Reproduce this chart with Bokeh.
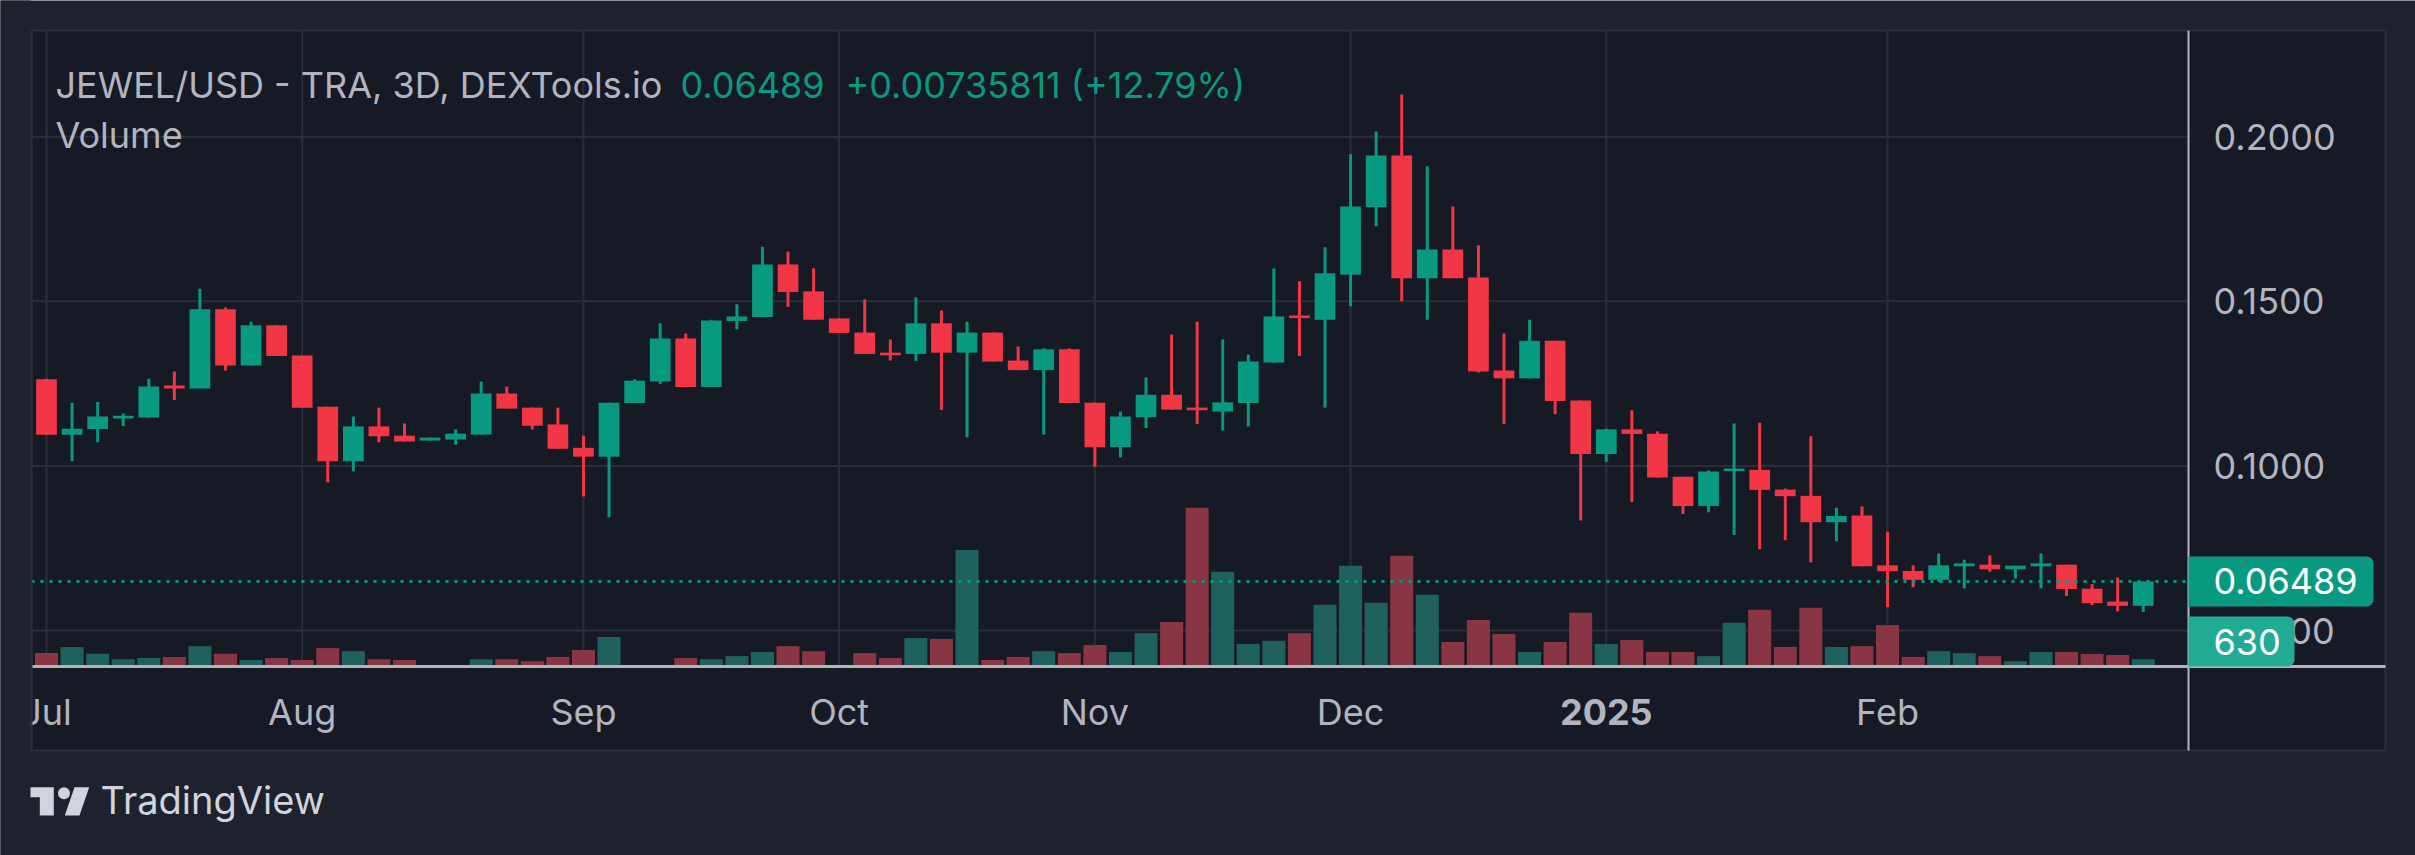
from bokeh.plotting import figure
from bokeh.models import Range1d, BoxAnnotation, Label, PolyAnnotation, ColumnDataSource
from bokeh.core.properties import value
from bokeh.embed import file_html
from bokeh.resources import INLINE

# ---------------- data (3D candles, Jul 2024 -> Feb 2025) ----------------
opens = [
    0.1263, 0.1095, 0.1112, 0.1144, 0.1147, 0.1244, 0.1235, 0.1476, 0.1305, 0.1427,
    0.1335, 0.1180, 0.1014, 0.1120, 0.1092, 0.1077, 0.1080, 0.1095, 0.1220, 0.1177,
    0.1126, 0.1055, 0.1028, 0.1191, 0.1256, 0.1387, 0.1240, 0.1440, 0.1452, 0.1612,
    0.1530, 0.1448, 0.1405, 0.1344, 0.1340, 0.1433, 0.1344, 0.1405, 0.1320, 0.1291,
    0.1354, 0.1192, 0.1057, 0.1148, 0.1216, 0.1177, 0.1165, 0.1191, 0.1314, 0.1457,
    0.1444, 0.1581, 0.1786, 0.1943, 0.1570, 0.1657, 0.1572, 0.1290, 0.1266, 0.1380,
    0.1199, 0.1036, 0.1111, 0.1098, 0.0967, 0.0878, 0.0984, 0.0988, 0.0928, 0.0909,
    0.0829, 0.0849, 0.0698, 0.0681, 0.0654, 0.0695, 0.0700, 0.0686, 0.0695, 0.0700,
    0.0627, 0.0588, 0.0575]
highs = [
    0.1265, 0.1192, 0.1194, 0.1159, 0.1265, 0.1287, 0.1538, 0.1481, 0.1438, 0.1427,
    0.1335, 0.1180, 0.1150, 0.1177, 0.1129, 0.1086, 0.1111, 0.1256, 0.1241, 0.1177,
    0.1177, 0.1092, 0.1192, 0.1263, 0.1433, 0.1402, 0.1444, 0.1491, 0.1666, 0.1651,
    0.1600, 0.1448, 0.1506, 0.1384, 0.1512, 0.1472, 0.1438, 0.1405, 0.1363, 0.1357,
    0.1357, 0.1192, 0.1165, 0.1269, 0.1399, 0.1438, 0.1384, 0.1338, 0.1600, 0.1561,
    0.1664, 0.1947, 0.2016, 0.2128, 0.1910, 0.1788, 0.1670, 0.1402, 0.1444, 0.1380,
    0.1199, 0.1113, 0.1169, 0.1105, 0.0967, 0.0986, 0.1129, 0.1131, 0.0931, 0.1090,
    0.0873, 0.0877, 0.0800, 0.0698, 0.0734, 0.0715, 0.0728, 0.0697, 0.0734, 0.0700,
    0.0641, 0.0661, 0.06489]
lows = [
    0.1095, 0.1014, 0.1072, 0.1121, 0.1147, 0.1200, 0.1235, 0.1290, 0.1305, 0.1334,
    0.1177, 0.0950, 0.0983, 0.1072, 0.1074, 0.1077, 0.1065, 0.1095, 0.1174, 0.1111,
    0.1052, 0.0907, 0.0844, 0.1191, 0.1249, 0.1240, 0.1240, 0.1415, 0.1452, 0.1483,
    0.1444, 0.1404, 0.1340, 0.1320, 0.1319, 0.1170, 0.1087, 0.1317, 0.1291, 0.1095,
    0.1191, 0.0997, 0.1026, 0.1115, 0.1171, 0.1127, 0.1108, 0.1120, 0.1314, 0.1334,
    0.1177, 0.1485, 0.1728, 0.1500, 0.1444, 0.1570, 0.1284, 0.1127, 0.1266, 0.1157,
    0.0834, 0.1012, 0.0890, 0.0965, 0.0854, 0.0859, 0.0790, 0.0747, 0.0774, 0.0707,
    0.0771, 0.0695, 0.0571, 0.0631, 0.0648, 0.0628, 0.0679, 0.0658, 0.0628, 0.0605,
    0.0577, 0.0558, 0.0556]
closes = [
    0.1095, 0.1113, 0.1150, 0.1152, 0.1241, 0.1235, 0.1476, 0.1305, 0.1427, 0.1334,
    0.1177, 0.1014, 0.1120, 0.1090, 0.1074, 0.1086, 0.1098, 0.1220, 0.1174, 0.1122,
    0.1052, 0.1028, 0.1192, 0.1259, 0.1387, 0.1240, 0.1442, 0.1454, 0.1612, 0.1528,
    0.1444, 0.1404, 0.1340, 0.1336, 0.1433, 0.1344, 0.1405, 0.1317, 0.1291, 0.1354,
    0.1191, 0.1057, 0.1150, 0.1216, 0.1171, 0.1169, 0.1193, 0.1317, 0.1454, 0.1449,
    0.1585, 0.1788, 0.1943, 0.1570, 0.1657, 0.1570, 0.1287, 0.1266, 0.1380, 0.1197,
    0.1036, 0.1111, 0.1097, 0.0965, 0.0878, 0.0983, 0.0992, 0.0927, 0.0908, 0.0829,
    0.0848, 0.0695, 0.0680, 0.0654, 0.0698, 0.0704, 0.0686, 0.0697, 0.0704, 0.0626,
    0.0583, 0.0575, 0.06489]
volumes = [
    1162, 1693, 1096, 631, 730, 830, 1760, 1096, 564, 730,
    564, 1594, 1328, 631, 564, 0, 0, 631, 631, 465,
    830, 1428, 2556, 0, 0, 730, 631, 896, 1262, 1760,
    1328, 0, 1162, 730, 2457, 2390, 10093, 564, 830, 1328,
    1162, 1859, 1262, 2888, 3851, 13745, 8200, 1959, 2224, 2888,
    5345, 8732, 5511, 9595, 6208, 2125, 4017, 2822, 1262, 2125,
    4648, 1959, 2291, 1262, 1262, 896, 3785, 4914, 1693, 5080,
    1693, 1760, 3586, 830, 1328, 1162, 896, 465, 1262, 1262,
    1096, 996, 630]
month_ticks = [0, 10, 21, 31, 41, 51, 61, 72]
month_labels = ["Jul", "Aug", "Sep", "Oct", "Nov", "Dec", "2025", "Feb"]
price_ticks = [0.05, 0.10, 0.15, 0.20]
price_tick_labels = ["0.0500", "0.1000", "0.1500", "0.2000"]
title_text = "JEWEL/USD - TRA, 3D, DEXTools.io"
last_price_text = "0.06489"
change_text = "+0.00735811 (+12.79%)"
last_price = 0.06489
last_volume = 630

# ---------------- layout constants (canvas pixels) ----------------
W, H = 2415, 855
PANEL_L, PANEL_T, PANEL_R, PANEL_B = 31, 30, 2385, 750
AXIS_X, AXIS_Y = 2188, 666          # price-axis line / time-axis line
BAR_PX, BAR0_PX = 25.57, 46.0       # px per 3-day bar, px of first bar
PX_PER_PRICE, PRICE0_PX = 3292.0, 794.6
VOL_PER_PX = 86.6

def xd(px):
    return (px - BAR0_PX) / BAR_PX

def yd(py):
    return (PRICE0_PX - py) / PX_PER_PRICE

FONT = "Inter"
FS = "36px"
OUTER = "#1e222d"
PANEL_BG = "#161a25"
GRID = "#2a2e39"
TEXT = "#b2b5be"
UP, DN = "#089981", "#f23645"
VUP, VDN = "#1f625d", "#8a3543"

n = len(closes)
up = [c >= o for o, c in zip(opens, closes)]
src = ColumnDataSource(dict(
    x=list(range(n)), open=opens, high=highs, low=lows, close=closes, vol=volumes,
    top=[max(o, c) for o, c in zip(opens, closes)],
    bottom=[min(o, c) for o, c in zip(opens, closes)],
    color=[UP if u else DN for u in up],
    vcolor=[VUP if u else VDN for u in up],
))

p = figure(width=W, height=H, title=None, toolbar_location=None, output_backend="svg",
           x_range=Range1d(xd(0), xd(W)), y_range=Range1d(yd(H), yd(0)),
           x_axis_type=None, y_axis_type=None, min_border=0,
           background_fill_color=OUTER, border_fill_color=OUTER,
           outline_line_color=None)
p.extra_y_ranges = {"vol": Range1d(-(H - AXIS_Y) * VOL_PER_PX, AXIS_Y * VOL_PER_PX)}

# chart panel
p.add_layout(BoxAnnotation(left=xd(PANEL_L), right=xd(PANEL_R), top=yd(PANEL_T),
                           bottom=yd(PANEL_B), fill_color=PANEL_BG, fill_alpha=1,
                           line_color=GRID, line_width=2, line_alpha=1, level="underlay"))

# grid lines at the tick values
p.segment(x0=month_ticks, x1=month_ticks, y0=yd(PANEL_T), y1=yd(AXIS_Y),
          line_color=GRID, line_width=2)
p.segment(x0=xd(PANEL_L), x1=xd(AXIS_X), y0=price_ticks, y1=price_ticks,
          line_color=GRID, line_width=2)

# volume
p.vbar(x="x", top="vol", bottom=0, width=0.9, y_range_name="vol",
       fill_color="vcolor", line_color=None, source=src)
# candles
p.segment(x0="x", y0="low", x1="x", y1="high", line_color="color", line_width=3, source=src)
p.vbar(x="x", top="top", bottom="bottom", width=0.81, fill_color="color",
       line_color=None, source=src)

# last price line (dotted)
p.segment(x0=xd(PANEL_L), x1=xd(AXIS_X), y0=[last_price], y1=[last_price],
          line_color=UP, line_width=3, line_dash="3 6")

# price-axis tick labels
p.text(x=xd(2213), y=price_ticks, text=price_tick_labels, text_color=TEXT,
       text_font=value(FONT), text_font_size=FS, text_align="left", text_baseline="middle")
# time-axis tick labels
reg = [(t, l) for t, l in zip(month_ticks, month_labels) if not l.isdigit()]
yrs = [(t, l) for t, l in zip(month_ticks, month_labels) if l.isdigit()]
p.text(x=[t for t, _ in reg], y=yd(711), text=[l for _, l in reg], text_color=TEXT,
       text_font=value(FONT), text_font_size=FS, text_align="center", text_baseline="middle")
p.text(x=[t for t, _ in yrs], y=yd(711), text=[l for _, l in yrs], text_color=TEXT,
       text_font=value(FONT), text_font_size=FS, text_font_style="bold",
       text_align="center", text_baseline="middle")

# axis lines
p.add_layout(BoxAnnotation(left=xd(AXIS_X - 1), right=xd(AXIS_X + 1), top=yd(PANEL_T),
                           bottom=yd(PANEL_B), fill_color=TEXT, fill_alpha=1, line_color=None))
p.add_layout(BoxAnnotation(left=xd(PANEL_L), right=xd(PANEL_R), top=yd(AXIS_Y - 1.5),
                           bottom=yd(AXIS_Y + 1.5), fill_color=TEXT, fill_alpha=1,
                           line_color=None))

# clip the time-axis labels at the panel's left edge
p.add_layout(BoxAnnotation(left=xd(-10), right=xd(PANEL_L - 1), top=yd(-10), bottom=yd(H + 10),
                           fill_color=OUTER, fill_alpha=1, line_color=None))
p.add_layout(BoxAnnotation(left=xd(PANEL_L - 1), right=xd(PANEL_L + 1), top=yd(PANEL_T),
                           bottom=yd(PANEL_B), fill_color=GRID, fill_alpha=1, line_color=None))

# header texts
def lab(px, py, text, color, size=FS):
    return Label(x=xd(px), y=yd(py), text=text, text_color=color, text_font=FONT,
                 text_font_size=size, text_baseline="middle", text_align="left")

p.add_layout(lab(55, 84, title_text, TEXT))
p.add_layout(lab(680, 84, last_price_text, UP))
p.add_layout(lab(845, 84, change_text, UP))
p.add_layout(lab(55, 134, "Volume", TEXT))

# price / volume badges
py_last = PRICE0_PX - last_price * PX_PER_PRICE
p.add_layout(BoxAnnotation(left=xd(AXIS_X), right=xd(2373), top=yd(py_last - 25),
                           bottom=yd(py_last + 25), fill_color=UP, fill_alpha=1,
                           line_color=None, border_radius=(0, 7, 7, 0)))
p.add_layout(lab(2213, py_last, last_price_text, "#ffffff"))
p.add_layout(BoxAnnotation(left=xd(AXIS_X), right=xd(2294), top=yd(616),
                           bottom=yd(AXIS_Y), fill_color="#22ab94", fill_alpha=1,
                           line_color=None, border_radius=(0, 7, 7, 0)))
p.add_layout(lab(2213, 641, str(last_volume), "#ffffff"))

# TradingView logo + wordmark
LOGO = "#d1d4dc"
p.add_layout(PolyAnnotation(xs=[xd(v) for v in [30, 53.3, 53.3, 39.3, 39.3, 30]],
                            ys=[yd(v) for v in [786.7, 786.7, 815, 815, 796.7, 796.7]],
                            fill_color=LOGO, fill_alpha=1, line_color=None))
p.add_layout(BoxAnnotation(left=xd(57.5), right=xd(69.5), top=yd(786.7), bottom=yd(798.7),
                           fill_color=LOGO, fill_alpha=1, line_color=None, border_radius=6))
p.add_layout(PolyAnnotation(xs=[xd(v) for v in [74, 88.7, 79, 64.3]],
                            ys=[yd(v) for v in [786.7, 786.7, 815, 815]],
                            fill_color=LOGO, fill_alpha=1, line_color=None))
p.add_layout(lab(100, 799, "TradingView", LOGO, size="38px"))

open("out.html", "w").write(file_html(p, INLINE))
